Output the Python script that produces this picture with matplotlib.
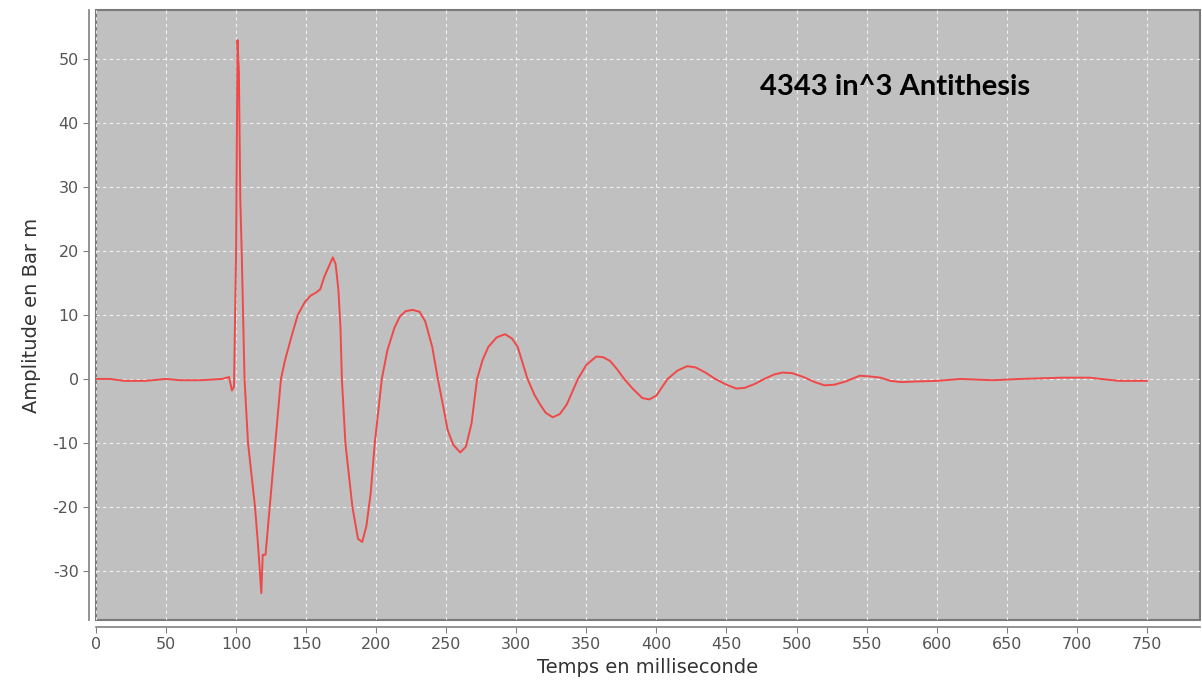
import matplotlib.pyplot as plt

plt.rcParams['axes.unicode_minus'] = False

# === Signature values ===
temps_ms = [0, 10, 20, 35, 50, 60, 75, 90, 95, 97, 98.5, 100, 101, 102, 103,
            104, 105, 106, 108.5, 111, 113.5, 116, 118, 119, 121, 124, 128,
            132, 135, 140, 144, 149, 153, 157, 160, 163, 166, 169, 171, 173,
            174.5, 175.5, 178, 183, 187, 190, 193, 196, 199, 204, 208, 213,
            217, 221, 226, 231, 235, 240, 244, 248, 251, 255, 260, 264, 268,
            272, 276, 280, 286, 292, 297, 301, 308, 313, 317, 321, 326, 331,
            336, 344, 350, 357, 362, 367, 372, 377, 383, 390, 395, 400, 408,
            415, 422, 428, 435, 442, 450, 457, 463, 470, 477, 484, 490, 497,
            505, 513, 520, 527, 535, 545, 552, 560, 567, 575, 585, 600, 617,
            640, 660, 690, 709, 730, 750]
amplitude = [0, 0, -0.3, -0.3, 0, -0.2, -0.2, 0, 0.3, -1.8, -1.2, 20, 53, 48,
             28, 20, 10, 0, -10, -15, -20, -27, -33.5, -27.5, -27.5, -20, -10,
             0, 3, 7, 10, 12, 13, 13.5, 14, 16, 17.5, 19, 18, 14,
             8, 0, -10, -20, -25, -25.5, -23, -18, -10, 0, 4.5, 8,
             9.8, 10.6, 10.8, 10.5, 9, 5, 0, -4.5, -8, -10.3, -11.5, -10.6, -7,
             0, 3, 5, 6.5, 7, 6.3, 5, 0, -2.5, -4, -5.3, -6, -5.5,
             -4, 0, 2.2, 3.5, 3.4, 2.8, 1.5, 0, -1.5, -3, -3.2, -2.6, 0,
             1.3, 2, 1.8, 1, 0, -0.9, -1.5, -1.4, -0.8, 0, 0.7, 1, 0.9,
             0.3, -0.5, -1, -0.9, -0.4, 0.5, 0.4, 0.2, -0.3, -0.5, -0.4, -0.3, 0,
             -0.2, 0, 0.2, 0.2, -0.3, -0.3]

x_ticks = list(range(0, 800, 50))
y_ticks = [-30, -20, -10, 0, 10, 20, 30, 40, 50]

# === Plotting ===
fig = plt.figure(figsize=(12.02, 6.95), dpi=100)
ax = fig.add_axes([96 / 1202, 75 / 695, 1104 / 1202, 610 / 695])

ax.set_facecolor("#c0c0c0")
ax.patch.set_edgecolor("#7a7a7a")
ax.patch.set_linewidth(1.5)

ax.plot(temps_ms, amplitude, color="#f04848", linewidth=1.4)

ax.set_xlim(0, 788)
ax.set_ylim(-37.7, 57.7)
ax.set_xticks(x_ticks)
ax.set_yticks(y_ticks)
ax.grid(True, color="white", linestyle=(0, (3, 3)), linewidth=0.8, alpha=0.8)

for side in ["top", "right"]:
    ax.spines[side].set_visible(False)
for side in ["left", "bottom"]:
    ax.spines[side].set_position(("outward", 5))
    ax.spines[side].set_color("#808080")
    ax.spines[side].set_linewidth(1.2)

ax.tick_params(axis="both", colors="#808080", labelcolor="#555555",
               labelsize=11.5, length=4, direction="out")

ax.set_xlabel("Temps en milliseconde", fontsize=14, color="#333333", labelpad=4)
ax.set_ylabel("Amplitude en Bar m", fontsize=14, color="#333333", labelpad=8)

ax.text(474, 45.6, "4343 in^3 Antithesis", fontsize=21, fontweight="bold",
        family="Lato", color="black", va="center", ha="left")

fig.savefig("out.png", dpi=100)
